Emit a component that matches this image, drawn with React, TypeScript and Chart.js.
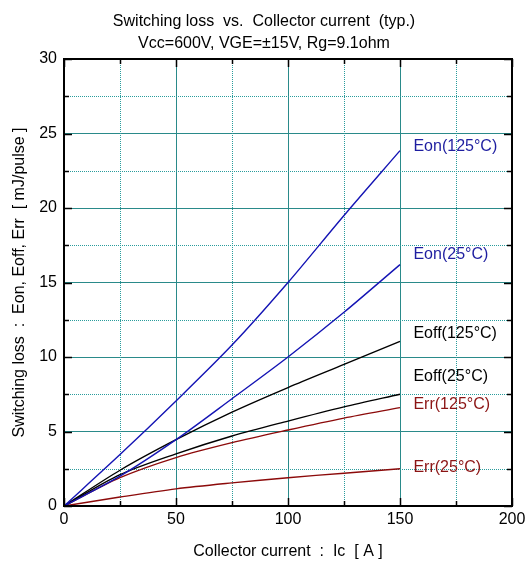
import React, { useEffect, useRef } from 'react';
import { Chart, registerables } from 'chart.js';

Chart.register(...registerables);

// ---- data ----
const currents = [0, 25, 50, 75, 100, 125, 150];
const eon125 = [0, 3.45, 7.05, 10.8, 15.0, 19.5, 23.85];
const eon25 = [0, 2.0, 4.45, 7.2, 10.0, 13.0, 16.2];
const eoff125 = [0, 2.4, 4.45, 6.3, 7.95, 9.5, 11.05];
const eoff25 = [0, 2.1, 3.5, 4.7, 5.7, 6.65, 7.5];
const err125 = [0, 1.9, 3.25, 4.25, 5.1, 5.9, 6.6];
const err25 = [0, 0.6, 1.15, 1.55, 1.9, 2.2, 2.5];

const seriesNames = ['Eon(125°C)', 'Eon(25°C)', 'Eoff(125°C)', 'Eoff(25°C)', 'Err(125°C)', 'Err(25°C)'];
const seriesValues = [eon125, eon25, eoff125, eoff25, err125, err25];
const lineColors = ['#1414b4', '#1414b4', '#000000', '#000000', '#8c0a0a', '#8c0a0a'];
const textColors = ['#1e1ea0', '#1e1ea0', '#000000', '#000000', '#8b1414', '#8b1414'];
// label anchor (data units): x, y
const labelX = 156;
const labelY = [24.1, 16.9, 11.6, 8.7, 6.8, 2.55];

const xMin = 0, xMax = 200, xMajor = 50, xMinor = 25;
const yMin = 0, yMax = 30, yMajor = 5, yMinor = 2.5;

const titleLines = ['Switching loss  vs.  Collector current  (typ.)', 'Vcc=600V, VGE=±15V, Rg=9.1ohm'];
const xTitle = 'Collector current  :  Ic  [ A ]';
const yTitle = 'Switching loss  :  Eon, Eoff, Err  [ mJ/pulse ]';

const FONT = '"Liberation Sans", Arial, sans-serif';

const framePlugin = {
  id: 'frame',
  beforeDatasetsDraw(chart: any) {
    const { ctx, chartArea: a, scales } = chart;
    const xs = scales.x, ys = scales.y;
    ctx.save();
    ctx.strokeStyle = '#2a9c9c';
    ctx.lineWidth = 1;
    ctx.setLineDash([1, 1]);
    for (let v = xMin + xMinor; v < xMax; v += xMajor) {
      const px = Math.round(xs.getPixelForValue(v)) + 0.5;
      ctx.beginPath(); ctx.moveTo(px, a.top); ctx.lineTo(px, a.bottom); ctx.stroke();
    }
    for (let v = yMin + yMinor; v < yMax; v += yMajor) {
      const py = Math.round(ys.getPixelForValue(v)) + 0.5;
      ctx.beginPath(); ctx.moveTo(a.left, py); ctx.lineTo(a.right, py); ctx.stroke();
    }
    ctx.restore();
  },
  afterDatasetsDraw(chart: any) {
    const { ctx, chartArea: a, scales } = chart;
    const xs = scales.x, ys = scales.y;
    ctx.save();
    ctx.strokeStyle = '#000';
    ctx.lineWidth = 1.5;
    for (let v = xMin; v <= xMax; v += xMinor) {
      const len = v % xMajor === 0 ? 8 : 5;
      const px = Math.round(xs.getPixelForValue(v)) + 0.5;
      ctx.beginPath();
      ctx.moveTo(px, a.bottom); ctx.lineTo(px, a.bottom - len);
      ctx.moveTo(px, a.top); ctx.lineTo(px, a.top + len);
      ctx.stroke();
    }
    for (let v = yMin; v <= yMax; v += yMinor) {
      const len = v % yMajor === 0 ? 8 : 5;
      const py = Math.round(ys.getPixelForValue(v)) + 0.5;
      ctx.beginPath();
      ctx.moveTo(a.left, py); ctx.lineTo(a.left + len, py);
      ctx.moveTo(a.right, py); ctx.lineTo(a.right - len, py);
      ctx.stroke();
    }
    ctx.lineWidth = 2;
    ctx.strokeRect(a.left, a.top, a.right - a.left, a.bottom - a.top);
    // series labels
    ctx.font = `16px ${FONT}`;
    ctx.textAlign = 'left';
    ctx.textBaseline = 'middle';
    seriesNames.forEach((name, i) => {
      ctx.fillStyle = textColors[i];
      ctx.fillText(name, xs.getPixelForValue(labelX), ys.getPixelForValue(labelY[i]));
    });
    ctx.restore();
  },
};

export default function App() {
  const ref = useRef<HTMLCanvasElement>(null);
  useEffect(() => {
    if (!ref.current) return;
    const chart = new Chart(ref.current, {
      type: 'line',
      data: {
        datasets: seriesValues.map((vals, i) => ({
          label: seriesNames[i],
          data: currents.map((c, j) => ({ x: c, y: vals[j] })),
          borderColor: lineColors[i],
          borderWidth: 1.4,
          pointRadius: 0,
          fill: false,
          tension: 0.3,
        })),
      },
      options: {
        animation: false,
        responsive: false,
        maintainAspectRatio: false,
        layout: { padding: { left: 16, right: 14, top: 0, bottom: 0 } },
        plugins: {
          legend: { display: false },
          tooltip: { enabled: false },
          title: {
            display: true,
            text: titleLines,
            color: '#000',
            font: { family: FONT, size: 16, weight: 'normal', lineHeight: 1.375 },
            padding: { top: 11, bottom: 4 },
          },
        },
        scales: {
          x: {
            type: 'linear',
            min: xMin,
            max: xMax,
            ticks: { stepSize: xMajor, color: '#000', font: { family: FONT, size: 16 }, padding: 4, maxRotation: 0 },
            grid: { color: '#2a8a8a', lineWidth: 1, drawTicks: false },
            border: { display: false },
            title: { display: true, text: xTitle, color: '#000', font: { family: FONT, size: 16 }, padding: { top: 0, bottom: 1 } },
            afterFit: (s: any) => { s.height = 56; s.paddingLeft = 0; s.paddingRight = 0; },
          },
          y: {
            type: 'linear',
            min: yMin,
            max: yMax,
            ticks: { stepSize: yMajor, color: '#000', font: { family: FONT, size: 16 }, padding: 7 },
            grid: { color: '#2a8a8a', lineWidth: 1, drawTicks: false },
            border: { display: false },
            title: { display: true, text: yTitle, color: '#000', font: { family: FONT, size: 16 }, padding: { top: -6, bottom: 0 } },
            afterFit: (s: any) => { s.width = 48; },
          },
        },
      },
      plugins: [framePlugin],
    });
    return () => chart.destroy();
  }, []);
  return (
    <div style={{ position: 'fixed', left: 0, top: 0, width: 526, height: 562, background: '#fff' }}>
      <canvas ref={ref} width={526} height={562} style={{ width: 526, height: 562, display: 'block' }} />
    </div>
  );
}
